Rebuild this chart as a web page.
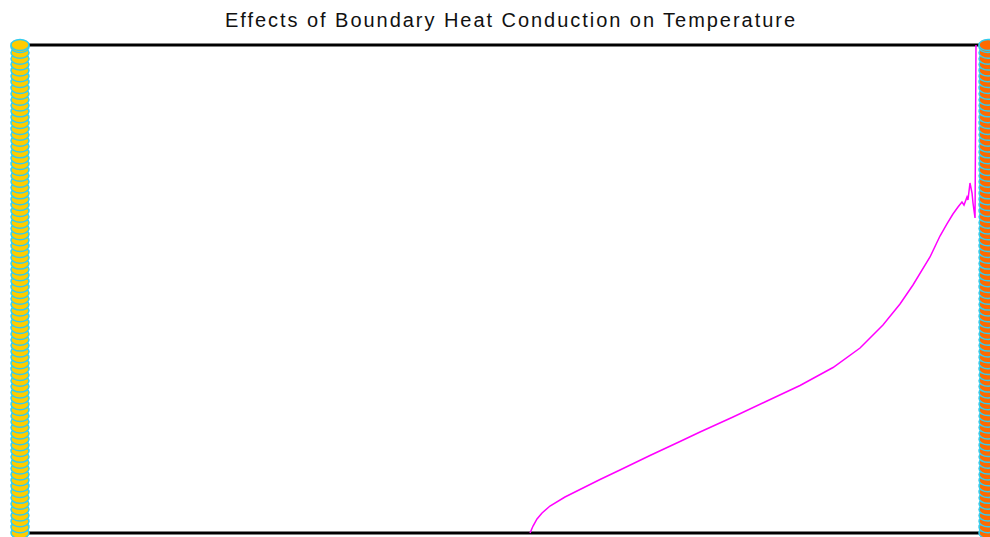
<!DOCTYPE html>
<html>
<head>
<meta charset="utf-8">
<script src="https://cdn.jsdelivr.net/npm/d3@7"></script>
<style>
  body { margin: 0; background: #fff; }
  svg { display: block; }
</style>
</head>
<body>
<div id="chart"></div>
<script>
const width = 990;
const height = 537;
const margin = { top: 45, right: 2, bottom: 4, left: 20 };

// temperature profile along the rod (position %, temperature %)
const profileX = [52.69, 53.0, 53.41, 53.93, 54.75, 56.3, 58.16, 59.92, 61.98, 65.08, 68.18,
  70.25, 73.66, 77.17, 80.58, 83.99, 86.78, 89.15, 90.91, 92.25, 94.01, 95.04, 95.76, 96.38,
  96.9, 97.31, 97.52, 97.83, 97.93, 98.14, 98.35, 98.45, 98.66, 98.76];
const profileY = [0, 1.43, 2.87, 4.1, 5.53, 7.38, 9.22, 10.96, 12.91, 15.88, 18.75,
  20.7, 23.77, 27.05, 30.23, 33.91, 37.91, 42.62, 46.93, 50.82, 56.56, 60.86, 63.32, 65.37,
  66.8, 67.83, 67.21, 68.85, 68.24, 71.72, 69.67, 67.62, 64.55, 100];

// boundary sensor readings (left wall, right wall)
const leftX = 0;
const rightX = 100;
const boundaryY = [0, 1.2, 2.4, 3.6, 4.8, 6.0, 7.2, 8.4, 9.6, 10.8, 12.0, 13.2, 14.4, 15.6,
  16.8, 18.0, 19.2, 20.4, 21.6, 22.8, 24.0, 25.2, 26.4, 27.6, 28.8, 30.0, 31.2, 32.4, 33.6,
  34.8, 36.0, 37.2, 38.4, 39.6, 40.8, 42.0, 43.2, 44.4, 45.6, 46.8, 48.0, 49.2, 50.4, 51.6,
  52.8, 54.0, 55.2, 56.4, 57.6, 58.8, 60.0, 61.2, 62.4, 63.6, 64.8, 66.0, 67.2, 68.4, 69.6,
  70.8, 72.0, 73.2, 74.4, 75.6, 76.8, 78.0, 79.2, 80.4, 81.6, 82.8, 84.0, 85.2, 86.4, 87.6,
  88.8, 90.0, 91.2, 92.4, 93.6, 94.8, 96.0, 97.2, 98.4, 99.6, 100];

const svg = d3
  .select("#chart")
  .append("svg")
  .attr("width", width)
  .attr("height", height);

const scale_X = d3
  .scaleLinear()
  .domain([0, 100])
  .range([margin.left, width - margin.right]);

const scale_Y = d3
  .scaleLinear()
  .domain([0, 100])
  .range([height - margin.bottom, margin.top]);

svg
  .append("text")
  .attr("x", 510)
  .attr("y", 27)
  .attr("text-anchor", "middle")
  .attr("font-family", "Liberation Sans, Arial, sans-serif")
  .attr("font-size", 20)
  .attr("textLength", 570)
  .attr("lengthAdjust", "spacing")
  .attr("fill", "#111")
  .text("Effects of Boundary Heat Conduction on Temperature");

// top and bottom frame lines
svg
  .selectAll("line.frame")
  .data([100, 0])
  .enter()
  .append("line")
  .attr("class", "frame")
  .attr("x1", scale_X(0))
  .attr("x2", scale_X(100))
  .attr("y1", (d) => scale_Y(d))
  .attr("y2", (d) => scale_Y(d))
  .attr("stroke", "#000")
  .attr("stroke-width", 3);

const profile = profileX.map((x, i) => [x, profileY[i]]);

svg
  .append("path")
  .datum(profile)
  .attr("fill", "none")
  .attr("stroke", "#ff00ff")
  .attr("stroke-width", 1.5)
  .attr(
    "d",
    d3
      .line()
      .x((d) => scale_X(d[0]))
      .y((d) => scale_Y(d[1]))
  );

svg
  .append("g")
  .selectAll("ellipse")
  .data(boundaryY)
  .enter()
  .append("ellipse")
  .attr("cx", scale_X(leftX))
  .attr("cy", (d) => scale_Y(d))
  .attr("rx", 9)
  .attr("ry", 5.5)
  .attr("fill", "#ffcc00")
  .attr("stroke", "#33ccee")
  .attr("stroke-width", 1.5);

svg
  .append("g")
  .selectAll("ellipse")
  .data(boundaryY)
  .enter()
  .append("ellipse")
  .attr("cx", scale_X(rightX))
  .attr("cy", (d) => scale_Y(d))
  .attr("rx", 9)
  .attr("ry", 5.5)
  .attr("fill", "#ff6a00")
  .attr("stroke", "#33ccee")
  .attr("stroke-width", 1.5);
</script>
</body>
</html>
